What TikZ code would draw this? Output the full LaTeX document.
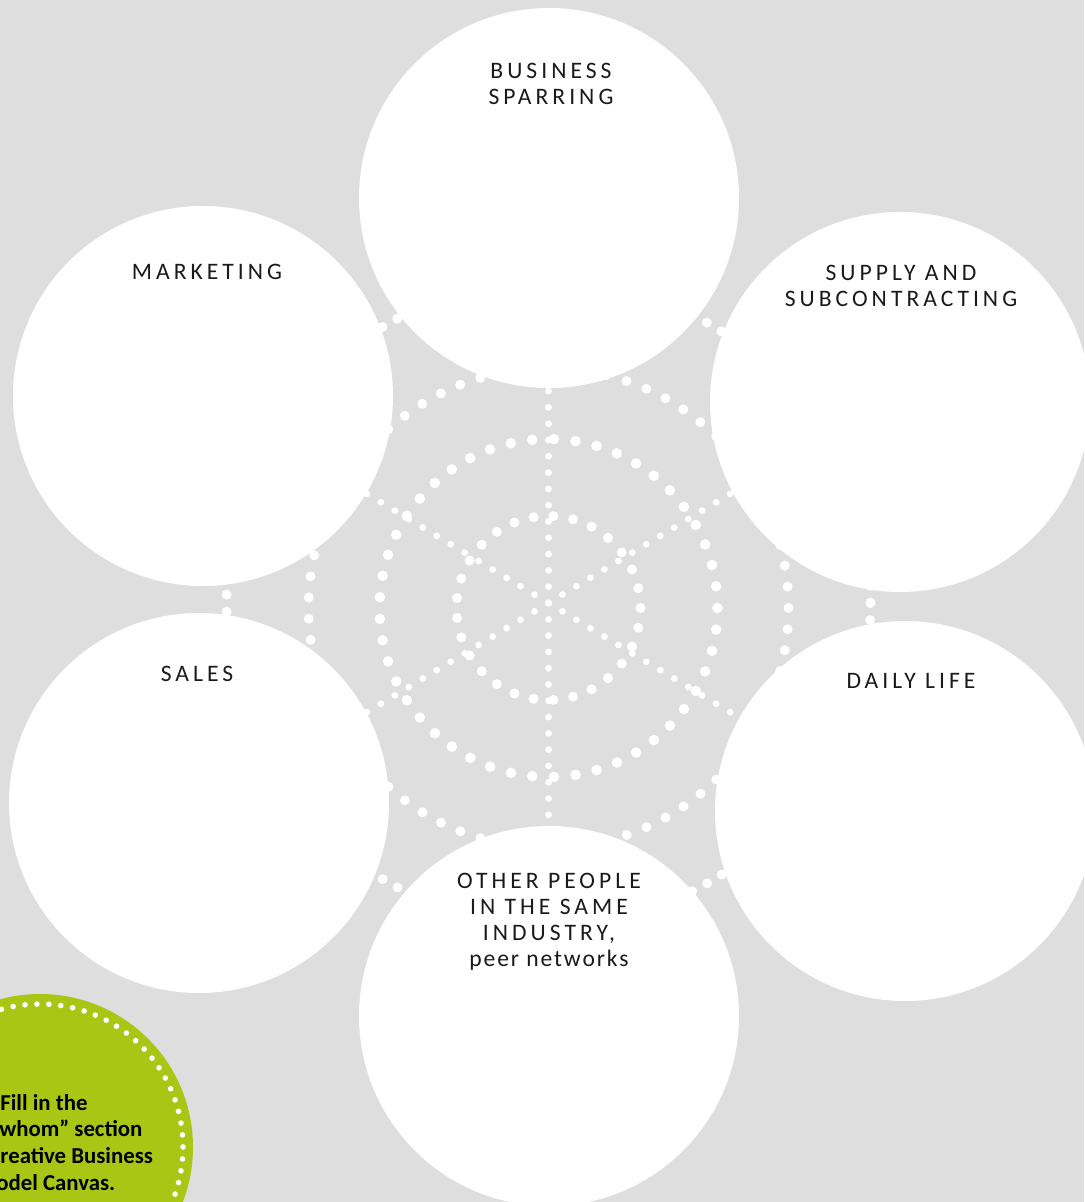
\documentclass[tikz,border=0pt]{standalone}
\usepackage{fontspec}
\setmainfont{Carlito}
\newfontfamily\capsfont[LetterSpace=17]{Carlito}
\newfontfamily\lowfont[LetterSpace=8]{Carlito}
\usepackage{tikz}
\usepackage{xcolor}

\definecolor{paper}{HTML}{DEDEDE}
\definecolor{lime}{HTML}{AAC614}
\definecolor{ink}{HTML}{1A1A1A}

\begin{document}
\begin{tikzpicture}[x=0.5pt, y=-0.5pt,
    bubble/.style = {circle, fill=white, minimum size=190pt, inner sep=0pt},
    badge/.style = {circle, fill=lime, minimum size=153pt, inner sep=0pt},
    tag/.style = {text=ink, align=center, inner sep=0pt, anchor=base,
                  font=\capsfont\fontsize{11.8}{13}\selectfont},
    note/.style = {text=black, align=left, inner sep=0pt, anchor=base west,
                   font=\bfseries\fontsize{11.4}{13.3}\selectfont},
    ring/.style = {white, line cap=round},
    spoke/.style = {white, line width=3.4pt, line cap=round, dash pattern=on 0pt off 8.15pt}]
  \clip (0,0) rectangle (1084,1202);
  \fill[paper] (0,0) rectangle (1084,1202);

  \coordinate (hub) at (548.5,603);
  \coordinate (core) at (548.5,608);

  % web of dots
  \foreach \a in {31,90,149,211,270,329}
    \draw[spoke] (hub) -- ++(\a:345);
  \foreach \r/\n/\w in {92/29/5, 169/49/5.3, 240/71/5} {
    \pgfmathsetmacro\gap{pi*\r/\n}
    \draw[ring, line width=\w pt, dash pattern=on 0pt off \gap pt] (core) circle[radius=\r];
  }
  \pgfmathsetmacro\gap{pi*322/119}
  \draw[ring, line width=5pt, dash pattern=on 0pt off \gap pt] (hub) circle[radius=322];

  % the six fields
  \node[bubble] (spar) at (549,198) {};
  \node[bubble] (mkt) at (203,396) {};
  \node[bubble] (sup) at (900,402) {};
  \node[bubble] (sales) at (199,803) {};
  \node[bubble] (daily) at (905,811) {};
  \node[bubble] (peers) at (549,1016) {};

  % (base of a node with several lines = its last line)
  \node[tag] (spar-t) at (551,105) {BUSINESS\\SPARRING};
  \node[tag] (mkt-t) at (207,279.5) {MARKETING};
  \node[tag] (sup-t) at (901,306.7) {SUPPLY AND\\SUBCONTRACTING};
  \node[tag] (sales-t) at (197,681.7) {SALES};
  \node[tag] (daily-t) at (911,688) {DAILY LIFE};
  \node[tag] (peers-t) at (549,966) {OTHER PEOPLE\\IN THE SAME\\INDUSTRY,\\{\lowfont peer networks}};

  % hint in the corner
  \node[badge] (hint) at (40,1147) {};
  \pgfmathsetmacro\gap{pi*143/75}
  \draw[ring, line width=2.8pt, dash pattern=on 0pt off \gap pt] (hint) circle[radius=143];
  \node[note] (hint-t) at (-24,1190) {\hspace*{12pt}Fill in the\\\hspace*{6.5pt}“whom” section\\\hspace*{6pt}Creative Business\\Model Canvas.};
\end{tikzpicture}
\end{document}
